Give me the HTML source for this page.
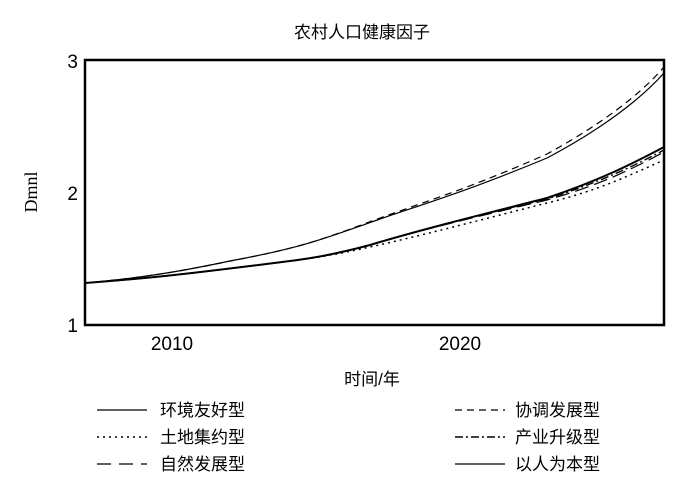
<!DOCTYPE html>
<html><head><meta charset="utf-8"><style>
body{margin:0;background:#fff;}
svg{display:block;font-family:"Liberation Sans","Noto Sans CJK SC",sans-serif;}
</style></head><body>
<svg width="700" height="481" viewBox="0 0 700 481">
<text x="362" y="38" font-size="17" text-anchor="middle">农村人口健康因子</text>
<rect x="85" y="60" width="579" height="265" fill="none" stroke="#000" stroke-width="2.5"/>
<g font-size="19" text-anchor="end">
<text x="78" y="68">3</text><text x="78" y="200">2</text><text x="78" y="332">1</text>
</g>
<g font-size="19" text-anchor="middle">
<text x="172" y="350">2010</text><text x="460" y="350">2020</text>
</g>
<text transform="translate(37,192) rotate(-90)" font-size="18" text-anchor="middle" font-family="Liberation Serif,serif">Dmnl</text>
<text x="372" y="385" font-size="17" text-anchor="middle">时间/年</text>
<g fill="none" stroke="#000">
<path d="M85,283 C140,278 178,272 230,261 C300,248 321,240 380,219 C430,202 470,190 547,158 C600,130 640,100 664,73" stroke-width="1.2"/>
<path d="M85,283 C140,278 178,272 230,261 C300,248 321,240 380,218 C430,200 470,188 547,154 C600,125 640,95 664,67" stroke-width="1.2" stroke-dasharray="7,5"/>
<path d="M85,283 C140,279 178,275 250,266 C300,260 321,258 370,245 C420,230 480,215 547,198 C600,180 630,165 664,147" stroke-width="2"/>
<path d="M85,283 C140,279 178,275 250,266 C300,260 321,258 370,245 C420,230 480,215 547,199 C600,182 630,168 664,150" stroke-width="1.4" stroke-dasharray="8,3,2,3"/>
<path d="M85,283 C140,279 178,275 250,266 C300,260 321,258 370,245 C420,230 480,216 547,200 C600,185 630,170 664,152" stroke-width="1.2" stroke-dasharray="14,6"/>
<path d="M85,283 C140,279 178,275 250,266 C300,260 321,258 370,247 C420,236 480,220 547,203 C600,190 630,175 664,160" stroke-width="1.5" stroke-dasharray="2,4"/>
<line x1="97" y1="410" x2="147" y2="410" stroke-width="1.2"/>
<line x1="97" y1="437" x2="147" y2="437" stroke-width="1.5" stroke-dasharray="2,4"/>
<line x1="97" y1="464" x2="147" y2="464" stroke-width="1.2" stroke-dasharray="14,8"/>
<line x1="455" y1="410" x2="505" y2="410" stroke-width="1.2" stroke-dasharray="7,5"/>
<line x1="455" y1="437" x2="505" y2="437" stroke-width="1.6" stroke-dasharray="8,3,2,3"/>
<line x1="455" y1="464" x2="505" y2="464" stroke-width="1.2"/>
</g>
<g font-size="17">
<text x="160" y="416">环境友好型</text><text x="160" y="443">土地集约型</text><text x="160" y="470">自然发展型</text>
<text x="515" y="416">协调发展型</text><text x="515" y="443">产业升级型</text><text x="515" y="470">以人为本型</text>
</g>
</svg>
</body></html>
